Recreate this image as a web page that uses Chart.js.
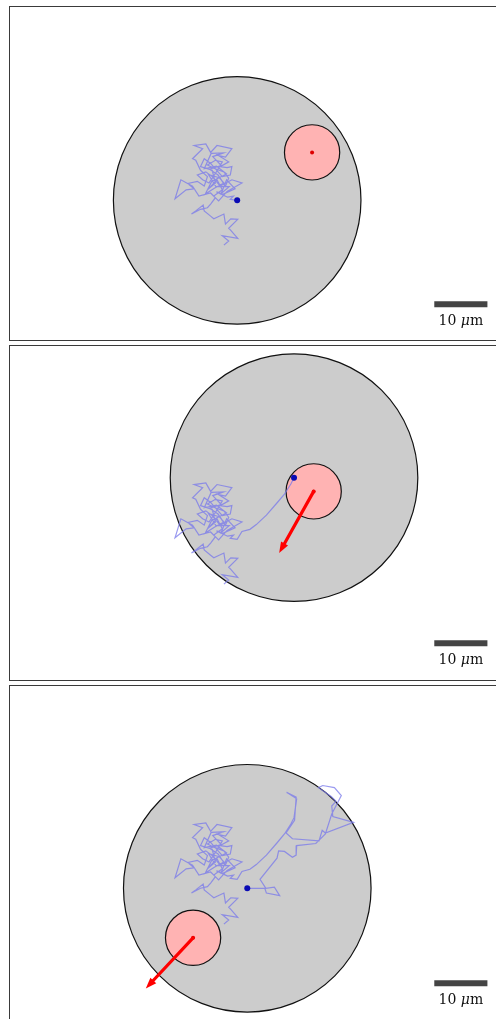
<!DOCTYPE html>
<html>
<head>
<meta charset="utf-8">
<script src="https://cdn.jsdelivr.net/npm/chart.js@4.4.1/dist/chart.umd.min.js"></script>
<style>
  html, body { margin: 0; padding: 0; background: #fff; overflow: hidden; }
  body { width: 496px; height: 1019px; position: relative; }
  .frame { position: absolute; left: 9px; width: 620px; box-sizing: border-box; border: 1.5px solid #3a3a3a; }
  canvas { position: absolute; left: 0; }
</style>
</head>
<body>
<script>
// lab frame in µm, origin = end of the first track, y grows downwards
const walkPath = [
  [-2.5, 8.5], [-1.6, 7.7], [-2.8, 6.7], [0.1, 7.2], [-1.2, 5.7], [-1.6, 5.3], [0.1, 3.6], [-1.2, 3.5],
  [-2.2, 4.5], [-2.5, 2.6], [-4.4, 3.5], [-5.0, 3.0], [-6.2, 2.0], [-6.4, 0.9], [-7.8, 2.0], [-8.6, 2.6],
  [-6.9, 1.7], [-5.6, 1.4], [-5.0, 0.7], [-4.1, -0.5], [-5.0, -1.4], [-7.2, -0.8], [-8.4, -2.7], [-10.6, -3.9],
  [-11.7, -0.3], [-9.6, -2.0], [-8.1, -2.2], [-9.3, -3.2], [-7.5, -3.6], [-6.2, -2.7], [-5.6, -4.5], [-6.9, -5.7],
  [-7.8, -7.6], [-8.4, -7.9], [-6.5, -9.8], [-8.1, -10.4], [-5.9, -10.7], [-5.0, -9.1], [-3.8, -10.4], [-1.0, -9.8],
  [-2.2, -8.2], [-3.5, -8.5], [-1.6, -7.3], [-3.2, -6.4], [-1.9, -6.2], [-1.0, -6.4], [-1.3, -4.8], [-2.8, -4.5],
  [-5.0, -7.0], [-6.2, -7.9], [-6.9, -6.4], [-4.7, -5.7], [-4.1, -3.3], [-5.6, -2.0], [-3.8, -3.9], [-2.8, -2.0],
  [-4.4, -0.8], [-3.5, 0.1], [-1.9, -1.7], [0.9, -3.3], [-1.0, -3.9], [-3.2, -2.7], [-4.7, -4.5], [-5.9, -5.4],
  [-7.5, -4.8], [-6.5, -3.9], [-5.3, -3.3], [-4.1, -5.1], [-2.8, -7.3], [-4.1, -7.6], [-5.6, -6.7], [-4.4, -6.1],
  [-2.5, -5.4], [-1.6, -4.2], [-2.2, -2.7], [-3.6, -4.8], [-5.2, -5.9], [-3.0, -6.6], [-4.6, -8.3], [-2.6, -9.0],
  [-4.9, -8.9], [-6.2, -6.0], [-3.9, -6.5], [-2.0, -5.0], [-4.8, -3.6], [-6.0, -1.2], [-4.3, -2.3], [-2.5, -3.3],
  [-3.4, -4.3], [-5.4, -4.9], [-4.0, -2.6], [-1.5, -2.6], [-3.0, -1.3], [-2.0, -3.9], [-0.4, -2.2], [-2.6, -1.2],
  [-3.9, -1.6], [-1.8, -0.6], [-0.7, -0.8], [-1.3, -0.2], [0, 0]
];
const walkStep2 = [
  [0.9, -1.5], [2.4, -1.9], [3.6, -2.8], [5.5, -4.6], [7.4, -6.8], [8.9, -8.6], [10.1, -10.5], [10.7, -11.7]
];
const walkStep3 = [
  [11.2, -15.3], [9.3, -16.5], [11.1, -15.6], [10.8, -11.2], [9.2, -8.8], [10.4, -7.7], [15.4, -7.3],
  [16.0, -9.3], [16.6, -8.8], [21.9, -10.8], [18.0, -11.9], [17.8, -13.9], [18.6, -14.8], [17.7, -15.7],
  [15.3, -17.4], [16.1, -17.8], [18.3, -17.4], [19.6, -15.9], [19.0, -14.7], [17.8, -12.4], [16.6, -8.6],
  [14.8, -6.8], [11.2, -6.4], [11.1, -4.6], [10.4, -4.2], [8.9, -5.3], [7.8, -5.4], [7.5, -4.0], [4.3, 0.0],
  [5.4, 1.7], [7.0, 1.5], [8.0, 3.1], [5.5, 2.6], [5.2, 1.7], [1.9, 1.7]
];
const cellCenters = [[0, 0], [10.7, -11.7], [1.9, 1.7]];
const cellRadius = 23.3;
const nucleusCenters = [[14.1, -9.1], [14.4, -9.1], [-8.3, 11.1]];
const nucleusRadius = 5.2;
const forceVectors = [null, [-6.5, 11.7], [-8.9, 9.6]];
const scaleBarStart = [37.1, 19.7];
const scaleBarLength = 10;
const scaleBarLabel = ["10 ", "\u03bc", "m"];

const PX_PER_UM = 5.4;
const ORIGIN = { x: 237, y: 195 };
const panels = [
  { top: 6, height: 335 },
  { top: 345, height: 336 },
  { top: 685, height: 334 }
];

const pts = arr => arr.map(p => ({ x: p[0], y: p[1] }));

const panelDecor = {
  id: 'panelDecor',
  beforeDatasetsDraw(chart, args, opts) {
    const { ctx, scales: { x, y } } = chart;
    const k = opts.panel;
    const unit = x.getPixelForValue(1) - x.getPixelForValue(0);
    function disc(c, r, fill) {
      ctx.beginPath();
      ctx.arc(x.getPixelForValue(c[0]), y.getPixelForValue(c[1]), r * unit, 0, Math.PI * 2);
      ctx.fillStyle = fill;
      ctx.fill();
      ctx.lineWidth = 1.2;
      ctx.strokeStyle = '#111';
      ctx.stroke();
    }
    ctx.save();
    disc(cellCenters[k], cellRadius, '#cccccc');
    disc(nucleusCenters[k], nucleusRadius, '#ffb3b3');
    ctx.restore();
  },
  afterDatasetsDraw(chart, args, opts) {
    const { ctx, scales: { x, y } } = chart;
    const k = opts.panel;
    ctx.save();
    // arrow head
    const v = forceVectors[k];
    if (v) {
      const c = nucleusCenters[k];
      const x0 = x.getPixelForValue(c[0]), y0 = y.getPixelForValue(c[1]);
      const x1 = x.getPixelForValue(c[0] + v[0]), y1 = y.getPixelForValue(c[1] + v[1]);
      const a = Math.atan2(y1 - y0, x1 - x0);
      const len = 11, half = 4;
      ctx.beginPath();
      ctx.moveTo(x1, y1);
      ctx.lineTo(x1 - len * Math.cos(a) + half * Math.sin(a), y1 - len * Math.sin(a) - half * Math.cos(a));
      ctx.lineTo(x1 - len * Math.cos(a) - half * Math.sin(a), y1 - len * Math.sin(a) + half * Math.cos(a));
      ctx.closePath();
      ctx.fillStyle = '#ff0000';
      ctx.fill();
    }
    // scale bar label
    const cx = x.getPixelForValue(scaleBarStart[0] + scaleBarLength / 2);
    const by = y.getPixelForValue(scaleBarStart[1]) + 21;
    const fonts = ['14px "DejaVu Serif"', 'italic 14px "DejaVu Serif"', '14px "DejaVu Serif"'];
    let w = 0;
    const widths = scaleBarLabel.map((s, i) => { ctx.font = fonts[i]; const m = ctx.measureText(s).width; w += m; return m; });
    let tx = cx - w / 2;
    ctx.fillStyle = '#111';
    ctx.textBaseline = 'alphabetic';
    scaleBarLabel.forEach((s, i) => { ctx.font = fonts[i]; ctx.fillText(s, tx, by); tx += widths[i]; });
    ctx.restore();
  }
};

panels.forEach((p, k) => {
  const frame = document.createElement('div');
  frame.className = 'frame';
  frame.style.top = p.top + 'px';
  frame.style.height = (k === 2 ? 400 : p.height) + 'px';
  document.body.appendChild(frame);

  const canvas = document.createElement('canvas');
  canvas.width = 496;
  canvas.height = p.height;
  canvas.style.top = p.top + 'px';
  document.body.appendChild(canvas);

  let track = walkPath;
  if (k >= 1) track = track.concat(walkStep2);
  if (k >= 2) track = track.concat(walkStep3);
  const end = track[track.length - 1];
  const c = nucleusCenters[k];

  const datasets = [];
  const v = forceVectors[k];
  if (v) {
    const L = Math.hypot(v[0], v[1]);
    const s = 1 - 1.8 / L;
    datasets.push({ data: pts([c, [c[0] + v[0] * s, c[1] + v[1] * s]]), showLine: true, borderColor: '#ff0000', borderWidth: 3.2, pointRadius: 0, borderCapStyle: 'round' });
  }
  datasets.push({ data: pts([end]), pointRadius: 3, backgroundColor: '#0a0ab4', borderColor: '#0a0ab4', borderWidth: 0 });
  datasets.push({ data: pts([c]), pointRadius: 2, backgroundColor: '#dd0000', borderColor: '#dd0000', borderWidth: 0 });
  datasets.push({ data: pts([scaleBarStart, [scaleBarStart[0] + scaleBarLength, scaleBarStart[1]]]), showLine: true, borderColor: '#444444', borderWidth: 6, pointRadius: 0, borderCapStyle: 'butt' });
  datasets.push({ data: pts(track), showLine: true, borderColor: 'rgba(120,120,235,0.75)', borderWidth: 1.2, pointRadius: 0, tension: 0 });

  new Chart(canvas.getContext('2d'), {
    type: 'scatter',
    data: { datasets },
    options: {
      responsive: false,
      animation: false,
      devicePixelRatio: 1,
      layout: { padding: 0 },
      scales: {
        x: { display: false, min: -ORIGIN.x / PX_PER_UM, max: (496 - ORIGIN.x) / PX_PER_UM },
        y: { display: false, reverse: true, min: -ORIGIN.y / PX_PER_UM, max: (p.height - ORIGIN.y) / PX_PER_UM }
      },
      plugins: { legend: { display: false }, tooltip: { enabled: false }, panelDecor: { panel: k } }
    },
    plugins: [panelDecor]
  });
});
</script>
</body>
</html>
